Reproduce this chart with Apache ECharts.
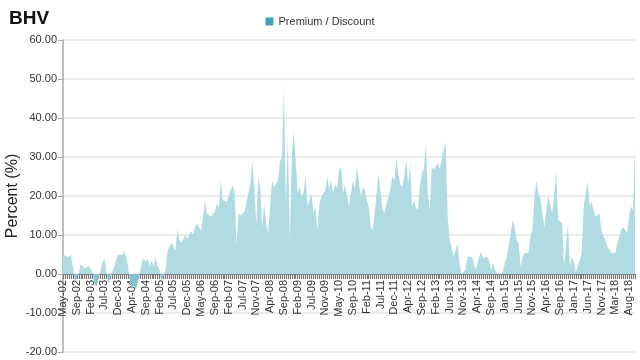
<!DOCTYPE html>
<html>
<head>
<meta charset="utf-8">
<script src="https://cdn.jsdelivr.net/npm/echarts@6/dist/echarts.min.js"></script>
<style>html,body{margin:0;padding:0;background:#fff;}#c{width:640px;height:360px;}</style>
</head>
<body>
<div id="c"></div>
<script>
// Tick labels along the x axis (one every 7 data points, 3-week spacing)
var tickLabels = ['May-02','Sep-02','Feb-03','Jul-03','Dec-03','Apr-04','Sep-04','Feb-05','Jul-05','Dec-05',
  'May-06','Sep-06','Feb-07','Jul-07','Nov-07','Apr-08','Sep-08','Feb-09','Jul-09','Nov-09',
  'May-10','Sep-10','Feb-11','Jul-11','Dec-11','Apr-12','Sep-12','Feb-13','Jun-13','Nov-13',
  'Apr-14','Sep-14','Jan-15','Jun-15','Nov-15','Apr-16','Sep-16','Jan-17','Jun-17','Nov-17',
  'Mar-18','Aug-18'];
var seriesName = 'Premium / Discount';
// Premium / Discount (%)
var premiumDiscount = [
  5.3, 4.6, 4.3, 4.4, 5.0, 2.0, -1.9,
  -1.0, 0.3, 2.5, 2.2, 1.5, 1.0, 2.0,
  1.2, 0.5, -2.5, -3.2, -1.0, 0.8, 3.0,
  4.0, 0.5, -2.3, -1.0, 0.5, 2.0, 3.8,
  5.0, 5.4, 4.8, 5.8, 4.4, 2.0, -2.0,
  -4.0, -3.0, -4.0, -2.0, 0.5, 3.0, 4.0,
  3.0, 4.0, 2.0, 3.5, 2.0, 4.5, 2.0,
  1.0, -1.5, -0.5, 1.0, 6.0, 7.0, 8.0,
  7.0, 6.0, 11.5, 9.0, 8.0, 9.0, 10.0,
  9.0, 10.0, 11.0, 10.0, 12.0, 13.0, 12.0,
  11.0, 10.5, 18.5, 15.5, 15.6, 14.7, 15.0,
  16.0, 18.0, 17.0, 24.0, 19.0, 19.0, 18.5,
  19.0, 21.5, 22.8, 20.7, 7.5, 15.6, 15.0,
  14.7, 16.0, 16.0, 20.7, 23.0, 29.0, 22.4,
  12.6, 25.0, 22.0, 12.0, 18.0, 13.0, 10.5,
  11.0, 24.0, 22.4, 22.4, 24.0, 29.0, 30.0,
  48.0, 18.0, 35.0, 8.8, 30.0, 36.5, 29.0,
  20.7, 22.4, 19.9, 21.0, 25.0, 17.3, 19.0,
  20.7, 15.6, 17.3, 11.3, 18.0, 19.9, 19.5,
  21.5, 25.0, 21.5, 24.0, 20.7, 23.0, 22.0,
  26.7, 27.5, 20.7, 23.0, 19.8, 17.3, 20.7,
  24.0, 22.0, 27.5, 28.0, 19.8, 22.4, 21.5,
  19.0, 17.3, 12.0, 11.3, 15.6, 16.0, 25.8,
  26.0, 16.4, 15.6, 18.0, 19.8, 22.0, 25.0,
  24.0, 29.7, 25.8, 23.0, 22.4, 25.0, 29.2,
  23.0, 28.4, 17.3, 19.0, 17.0, 16.4, 23.0,
  25.8, 27.0, 33.5, 20.7, 16.4, 27.5, 26.7,
  27.0, 28.4, 27.0, 29.2, 31.8, 33.5, 15.0,
  8.7, 7.0, 4.4, 6.0, 7.9, 2.7, 0.0,
  -0.5, 1.0, 4.4, 4.0, 4.4, 3.5, 1.0,
  2.3, 4.4, 5.7, 4.0, 3.6, 4.4, 3.5,
  1.0, 2.8, 1.1, 0.2, -0.2, -0.2, 0.5,
  2.8, 4.5, 4.5, 10.4, 13.8, 12.0, 8.7,
  7.9, 1.9, 4.5, 5.3, 5.0, 5.5, 9.6,
  11.3, 19.7, 24.0, 20.6, 19.7, 19.4, 12.0,
  16.0, 20.0, 18.0, 15.6, 20.0, 26.6, 13.9,
  14.3, 13.0, 2.0, 7.0, 13.0, 2.0, 4.5,
  2.8, 0.3, 2.0, 3.6, 5.4, 17.3, 17.2,
  23.7, 17.3, 18.5, 16.4, 14.7, 15.0, 15.5,
  11.3, 9.6, 8.8, 7.0, 6.2, 5.4, 5.4,
  5.3, 7.9, 7.9, 11.3, 12.0, 11.5, 10.5,
  14.7, 17.3, 16.4, 33.0
];
var pointsPerLabel = 7;
var yMin = -20, yMax = 60, yStep = 10;

var categories = [];
for (var k = 0; k < tickLabels.length; k++) {
  categories.push(tickLabels[k]);
  for (var j = 1; j < pointsPerLabel; j++) categories.push(tickLabels[k] + ' ' + j);
}
categories = categories.slice(0, premiumDiscount.length);

var gridTop = 40, gridBottom = 8, H = 360;
var plotH = H - gridTop - gridBottom;
var zeroOffset = plotH * (0 - yMin) / (yMax - yMin);
var zeroStop = (gridTop + plotH - zeroOffset) / H;

var chart = echarts.init(document.getElementById('c'), null, {renderer: 'canvas'});
var font = '"Liberation Sans", Arial, sans-serif';
chart.setOption({
  animation: false,
  backgroundColor: '#ffffff',
  title: {
    text: 'BHV', left: 4, top: 4,
    textStyle: {fontFamily: font, fontWeight: 'bold', fontSize: 19, color: '#111'}
  },
  legend: {
    data: [seriesName], left: 'center', top: 11, itemWidth: 8, itemHeight: 8, itemGap: 5,
    icon: 'rect',
    textStyle: {fontFamily: font, fontSize: 11, color: '#333'}
  },
  grid: {left: 63, right: 5, top: gridTop, bottom: gridBottom, containLabel: false, outerBoundsMode: 'none'},
  xAxis: {
    type: 'category', data: categories, boundaryGap: false,
    offset: -zeroOffset,
    axisLine: {onZero: false, lineStyle: {color: '#8a8a8a', width: 1}},
    axisTick: {show: true, interval: 0, length: 5, lineStyle: {color: '#7a7a7a', width: 1.2}},
    axisLabel: {
      interval: pointsPerLabel - 1, rotate: 90, fontFamily: font, fontSize: 11, color: '#333', margin: 6,
      formatter: function (v) { return v.split(' ')[0]; }
    },
    splitLine: {show: false}
  },
  yAxis: {
    type: 'value', min: yMin, max: yMax, interval: yStep,
    name: 'Percent (%)', nameLocation: 'middle', nameGap: 42, nameMoveOverlap: false,
    nameTextStyle: {fontFamily: font, fontSize: 16, color: '#222'},
    axisLine: {show: true, lineStyle: {color: '#aaa', width: 1.5}},
    axisTick: {show: true, length: 5, lineStyle: {color: '#aaa'}},
    axisLabel: {fontFamily: font, fontSize: 11, color: '#333', margin: 6,
      formatter: function (v) { return v.toFixed(2); }},
    splitLine: {show: true, lineStyle: {color: '#e4e4e4', width: 1.5}}
  },
  series: [{
    name: seriesName, type: 'line', data: premiumDiscount,
    showSymbol: false, symbol: 'none',
    itemStyle: {color: '#43a3b4'},
    lineStyle: {width: 0, color: '#b0dbe2'},
    areaStyle: {
      opacity: 1,
      color: new echarts.graphic.LinearGradient(0, 0, 0, H, [
        {offset: 0, color: '#b0dbe2'},
        {offset: zeroStop, color: '#b0dbe2'},
        {offset: zeroStop, color: '#86c3cf'},
        {offset: 1, color: '#86c3cf'}
      ], true)
    },
    z: 1
  }]
});
</script>
</body>
</html>
